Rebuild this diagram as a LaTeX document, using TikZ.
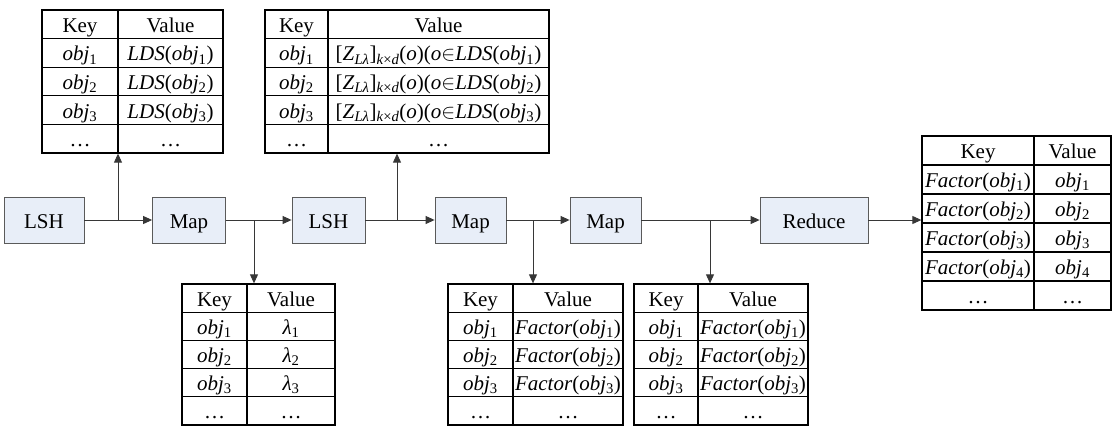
\documentclass[tikz,border=0pt]{standalone}
\usepackage{fontspec}
\setmainfont{Liberation Serif}
\usetikzlibrary{arrows.meta}

\definecolor{boxFill}{RGB}{232,238,248}
\definecolor{boxLine}{RGB}{90,90,90}
\definecolor{flowLine}{RGB}{55,55,55}

\newcommand{\objsub}[1]{\textit{obj}\textsubscript{#1}}
\newcommand{\facsub}[1]{\textit{Factor}(\objsub{#1})}
\newcommand{\ldssub}[1]{\textit{LDS}(\objsub{#1})}
\newcommand{\lamsub}[1]{\textit{λ}\textsubscript{#1}}
\newcommand{\zsub}[1]{[\textit{Z}\textsubscript{\textit{Lλ}}]\textsubscript{\textit{k}×\textit{d}}(\textit{o})(\textit{o}$\in$\ldssub{#1}}

\begin{document}
\begin{tikzpicture}[x=1pt, y=-1pt, >={Triangle[length=9pt, width=8pt]},
    procStyle/.style={rectangle, draw=boxLine, fill=boxFill, line width=0.8pt, minimum height=46pt, inner sep=0pt, text height=16pt, text depth=0pt},
    cellStyle/.style n args={2}{rectangle, draw, line width=1.3pt, inner sep=0pt, text height=16pt, text depth=0pt, minimum width=#1, minimum height=#2},
    flowStyle/.style={draw=flowLine, line width=0.9pt},
    font=\fontsize{21}{24}\selectfont]
    \useasboundingbox (0,0) rectangle (1116,434);

    % processing steps
    \node[procStyle, minimum width=80pt]  (lsh_0)  at (44, 220)    {LSH};
    \node[procStyle, minimum width=73pt]  (map_0)  at (189, 220)   {Map};
    \node[procStyle, minimum width=73pt]  (lsh_1)  at (328.5, 220) {LSH};
    \node[procStyle, minimum width=71pt]  (map_1)  at (470.5, 220) {Map};
    \node[procStyle, minimum width=71pt]  (map_2)  at (605.5, 220) {Map};
    \node[procStyle, minimum width=108pt] (reduce) at (814, 220)   {Reduce};

    % table LDS
    \node[cellStyle={76pt}{28.6pt}]  (lds_K0) at (80, 24.3)    {Key};
    \node[cellStyle={105pt}{28.6pt}] (lds_V0) at (170.5, 24.3) {Value};
    \node[cellStyle={76pt}{28.6pt}]  (lds_K1) at (80, 52.9)    {\objsub{1}};
    \node[cellStyle={105pt}{28.6pt}] (lds_V1) at (170.5, 52.9) {\ldssub{1}};
    \node[cellStyle={76pt}{28.6pt}]  (lds_K2) at (80, 81.5)    {\objsub{2}};
    \node[cellStyle={105pt}{28.6pt}] (lds_V2) at (170.5, 81.5) {\ldssub{2}};
    \node[cellStyle={76pt}{28.6pt}]  (lds_K3) at (80, 110.1)   {\objsub{3}};
    \node[cellStyle={105pt}{28.6pt}] (lds_V3) at (170.5, 110.1){\ldssub{3}};
    \node[cellStyle={76pt}{28.6pt}]  (lds_K4) at (80, 138.7)   {\dots};
    \node[cellStyle={105pt}{28.6pt}] (lds_V4) at (170.5, 138.7){\dots};

    % table Z
    \node[cellStyle={63pt}{28.6pt}]  (z_K0) at (296.5, 24.3)  {Key};
    \node[cellStyle={221pt}{28.6pt}] (z_V0) at (438.5, 24.3)  {Value};
    \node[cellStyle={63pt}{28.6pt}]  (z_K1) at (296.5, 52.9)  {\objsub{1}};
    \node[cellStyle={221pt}{28.6pt}] (z_V1) at (438.5, 52.9)  {\zsub{1}};
    \node[cellStyle={63pt}{28.6pt}]  (z_K2) at (296.5, 81.5)  {\objsub{2}};
    \node[cellStyle={221pt}{28.6pt}] (z_V2) at (438.5, 81.5)  {\zsub{2}};
    \node[cellStyle={63pt}{28.6pt}]  (z_K3) at (296.5, 110.1) {\objsub{3}};
    \node[cellStyle={221pt}{28.6pt}] (z_V3) at (438.5, 110.1) {\zsub{3}};
    \node[cellStyle={63pt}{28.6pt}]  (z_K4) at (296.5, 138.7) {\dots};
    \node[cellStyle={221pt}{28.6pt}] (z_V4) at (438.5, 138.7) {\dots};

    % table lambda
    \node[cellStyle={65pt}{28.2pt}] (lam_K0) at (214.5, 298.1) {Key};
    \node[cellStyle={88pt}{28.2pt}] (lam_V0) at (291, 298.1)   {Value};
    \node[cellStyle={65pt}{28.2pt}] (lam_K1) at (214.5, 326.3) {\objsub{1}};
    \node[cellStyle={88pt}{28.2pt}] (lam_V1) at (291, 326.3)   {\lamsub{1}};
    \node[cellStyle={65pt}{28.2pt}] (lam_K2) at (214.5, 354.5) {\objsub{2}};
    \node[cellStyle={88pt}{28.2pt}] (lam_V2) at (291, 354.5)   {\lamsub{2}};
    \node[cellStyle={65pt}{28.2pt}] (lam_K3) at (214.5, 382.7) {\objsub{3}};
    \node[cellStyle={88pt}{28.2pt}] (lam_V3) at (291, 382.7)   {\lamsub{3}};
    \node[cellStyle={65pt}{28.2pt}] (lam_K4) at (214.5, 410.9) {\dots};
    \node[cellStyle={88pt}{28.2pt}] (lam_V4) at (291, 410.9)   {\dots};

    % table factor, first map
    \node[cellStyle={65pt}{28.2pt}]  (fac_K0) at (480.5, 298.1) {Key};
    \node[cellStyle={110pt}{28.2pt}] (fac_V0) at (568, 298.1)   {Value};
    \node[cellStyle={65pt}{28.2pt}]  (fac_K1) at (480.5, 326.3) {\objsub{1}};
    \node[cellStyle={110pt}{28.2pt}] (fac_V1) at (568, 326.3)   {\facsub{1}};
    \node[cellStyle={65pt}{28.2pt}]  (fac_K2) at (480.5, 354.5) {\objsub{2}};
    \node[cellStyle={110pt}{28.2pt}] (fac_V2) at (568, 354.5)   {\facsub{2}};
    \node[cellStyle={65pt}{28.2pt}]  (fac_K3) at (480.5, 382.7) {\objsub{3}};
    \node[cellStyle={110pt}{28.2pt}] (fac_V3) at (568, 382.7)   {\facsub{3}};
    \node[cellStyle={65pt}{28.2pt}]  (fac_K4) at (480.5, 410.9) {\dots};
    \node[cellStyle={110pt}{28.2pt}] (fac_V4) at (568, 410.9)   {\dots};

    % table factor, second map
    \node[cellStyle={64pt}{28.2pt}]  (fac2_K0) at (666, 298.1) {Key};
    \node[cellStyle={110pt}{28.2pt}] (fac2_V0) at (753, 298.1) {Value};
    \node[cellStyle={64pt}{28.2pt}]  (fac2_K1) at (666, 326.3) {\objsub{1}};
    \node[cellStyle={110pt}{28.2pt}] (fac2_V1) at (753, 326.3) {\facsub{1}};
    \node[cellStyle={64pt}{28.2pt}]  (fac2_K2) at (666, 354.5) {\objsub{2}};
    \node[cellStyle={110pt}{28.2pt}] (fac2_V2) at (753, 354.5) {\facsub{2}};
    \node[cellStyle={64pt}{28.2pt}]  (fac2_K3) at (666, 382.7) {\objsub{3}};
    \node[cellStyle={110pt}{28.2pt}] (fac2_V3) at (753, 382.7) {\facsub{3}};
    \node[cellStyle={64pt}{28.2pt}]  (fac2_K4) at (666, 410.9) {\dots};
    \node[cellStyle={110pt}{28.2pt}] (fac2_V4) at (753, 410.9) {\dots};

    % table output
    \node[cellStyle={112pt}{29pt}] (out_K0) at (978, 150.5)    {Key};
    \node[cellStyle={77pt}{29pt}]  (out_V0) at (1072.5, 150.5) {Value};
    \node[cellStyle={112pt}{29pt}] (out_K1) at (978, 179.5)    {\facsub{1}};
    \node[cellStyle={77pt}{29pt}]  (out_V1) at (1072.5, 179.5) {\objsub{1}};
    \node[cellStyle={112pt}{29pt}] (out_K2) at (978, 208.5)    {\facsub{2}};
    \node[cellStyle={77pt}{29pt}]  (out_V2) at (1072.5, 208.5) {\objsub{2}};
    \node[cellStyle={112pt}{29pt}] (out_K3) at (978, 237.5)    {\facsub{3}};
    \node[cellStyle={77pt}{29pt}]  (out_V3) at (1072.5, 237.5) {\objsub{3}};
    \node[cellStyle={112pt}{29pt}] (out_K4) at (978, 266.5)    {\facsub{4}};
    \node[cellStyle={77pt}{29pt}]  (out_V4) at (1072.5, 266.5) {\objsub{4}};
    \node[cellStyle={112pt}{29pt}] (out_K5) at (978, 295.5)    {\dots};
    \node[cellStyle={77pt}{29pt}]  (out_V5) at (1072.5, 295.5) {\dots};

    % branch points
    \coordinate (j_0) at (118, 220);
    \coordinate (j_1) at (254, 220);
    \coordinate (j_2) at (397, 220);
    \coordinate (j_3) at (533, 220);
    \coordinate (j_4) at (710, 220);

    \draw[flowStyle, ->] (lsh_0) -- (map_0);
    \draw[flowStyle, ->] (map_0) -- (lsh_1);
    \draw[flowStyle, ->] (lsh_1) -- (map_1);
    \draw[flowStyle, ->] (map_1) -- (map_2);
    \draw[flowStyle, ->] (map_2) -- (reduce);
    \draw[flowStyle, ->] (reduce.east) -- (reduce.east -| out_K2.west);

    \draw[flowStyle, ->] (j_0) -- (j_0 |- lds_K4.south);
    \draw[flowStyle, ->] (j_1) -- (j_1 |- lam_K0.north);
    \draw[flowStyle, ->] (j_2) -- (j_2 |- z_V4.south);
    \draw[flowStyle, ->] (j_3) -- (j_3 |- fac_V0.north);
    \draw[flowStyle, ->] (j_4) -- (j_4 |- fac2_V0.north);
\end{tikzpicture}
\end{document}
